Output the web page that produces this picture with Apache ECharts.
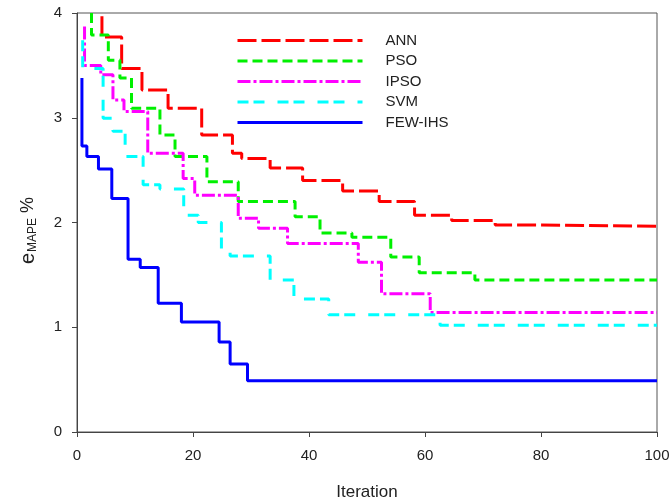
<!DOCTYPE html>
<html>
<head>
<meta charset="utf-8">
<script src="https://cdn.jsdelivr.net/npm/echarts@6/dist/echarts.min.js"></script>
<style>
html,body{margin:0;padding:0;background:#fff;}
#chart{width:671px;height:504px;}
</style>
</head>
<body>
<div id="chart"></div>
<script>
// Step-change iterations and values
const seriesNames = ['ANN', 'PSO', 'IPSO', 'SVM', 'FEW-IHS'];

const annX = [4.3, 4.3, 7.7, 11.2, 15.7, 21.5, 26.8, 28.4, 33.3, 38.9, 45.8, 52.1, 58.2, 64.6, 72.1, 80.1, 100];
const annY = [3.97, 3.77, 3.47, 3.265, 3.09, 2.835, 2.66, 2.61, 2.52, 2.40, 2.30, 2.20, 2.07, 2.02, 1.976, 1.964, 1.964];

const psoX = [2.5, 2.5, 5.4, 7.4, 9.4, 14.3, 16.9, 22.4, 27.8, 37.6, 41.9, 47.4, 54.1, 59.0, 68.6, 100];
const psoY = [4.0, 3.79, 3.55, 3.38, 3.09, 2.835, 2.63, 2.39, 2.20, 2.055, 1.90, 1.86, 1.67, 1.52, 1.45, 1.45];

const ipsoX = [1.3, 1.3, 4.1, 6.2, 8.1, 12.2, 18.3, 20.3, 27.8, 31.3, 36.3, 48.5, 52.5, 60.9, 100];
const ipsoY = [3.87, 3.50, 3.41, 3.17, 3.06, 2.66, 2.42, 2.26, 2.04, 1.945, 1.80, 1.62, 1.32, 1.14, 1.14];

const svmX = [0.98, 0.98, 4.5, 6.2, 8.3, 11.4, 14.3, 18.4, 20.9, 24.9, 26.4, 33.3, 37.4, 43.4, 62.6, 100];
const svmY = [3.74, 3.47, 2.995, 2.87, 2.63, 2.36, 2.32, 2.07, 2.00, 1.74, 1.68, 1.45, 1.27, 1.12, 1.02, 1.02];

const fewX = [0.85, 0.85, 1.7, 3.7, 6.0, 8.8, 10.9, 14.0, 18.0, 24.5, 26.4, 29.4, 100];
const fewY = [3.38, 2.73, 2.63, 2.51, 2.23, 1.65, 1.57, 1.23, 1.05, 0.86, 0.65, 0.49, 0.49];

const xTicks = [0, 20, 40, 60, 80, 100];
const yTicks = [0, 1, 2, 3, 4];

function pairs(xs, ys) { return xs.map((x, i) => [x, ys[i]]); }

const styles = [
  { color: '#ff0000', type: [19, 5] },
  { color: '#00f000', type: [10, 5] },
  { color: '#ff00ff', type: [13, 3, 3, 3] },
  { color: '#00ffff', type: [11, 5, 11, 13] },
  { color: '#0000ff', type: 'solid' }
];
const datas = [pairs(annX, annY), pairs(psoX, psoY), pairs(ipsoX, ipsoY), pairs(svmX, svmY), pairs(fewX, fewY)];

const font = 'Liberation Sans, Arial, sans-serif';
const chart = echarts.init(document.getElementById('chart'));
chart.setOption({
  animation: false,
  backgroundColor: '#fff',
  grid: { left: 77, right: 14, top: 13, bottom: 72, show: true, borderColor: '#555', borderWidth: 1,
          containLabel: false, outerBoundsMode: 'none' },
  legend: {
    orient: 'vertical', left: 231, top: 28,
    itemWidth: 125, itemHeight: 14, itemGap: 5.5,
    data: seriesNames,
    itemStyle: { opacity: 0 },
    lineStyle: { width: 3 },
    textStyle: { fontFamily: font, fontSize: 15, color: '#222', padding: [0, 0, 0, 18] }
  },
  xAxis: {
    type: 'value', min: xTicks[0], max: xTicks[xTicks.length - 1], interval: 20,
    name: 'Iteration', nameLocation: 'middle', nameGap: 52,
    nameTextStyle: { fontFamily: font, fontSize: 17, color: '#222' },
    axisLine: { show: true, lineStyle: { color: '#444', width: 1 } },
    axisTick: { show: true, length: 5, lineStyle: { color: '#444' } },
    axisLabel: { fontFamily: font, fontSize: 15, color: '#222', margin: 16 },
    splitLine: { show: false }
  },
  yAxis: {
    type: 'value', min: yTicks[0], max: yTicks[yTicks.length - 1], interval: 1,
    name: '{e|e}{s|MAPE}{p| %}', nameLocation: 'middle', nameGap: 38, nameRotate: 90,
    nameTextStyle: {
      fontFamily: font, color: '#222',
      rich: {
        e: { fontFamily: font, fontSize: 20, color: '#222' },
        s: { fontFamily: font, fontSize: 12, color: '#222', padding: [9, 0, 0, 1] },
        p: { fontFamily: font, fontSize: 18, color: '#222', padding: [0, 16, 0, 0] }
      }
    },
    axisLine: { show: true, lineStyle: { color: '#444', width: 1 } },
    axisTick: { show: true, length: 5, lineStyle: { color: '#444' } },
    axisLabel: { fontFamily: font, fontSize: 15, color: '#222', margin: 15 },
    splitLine: { show: false }
  },
  series: seriesNames.map((n, i) => ({
    name: n, type: 'line', step: 'end', symbol: 'none', data: datas[i],
    itemStyle: { color: styles[i].color },
    lineStyle: { color: styles[i].color, width: 3, type: styles[i].type },
    z: i === 4 ? 5 : 2
  }))
});
</script>
</body>
</html>
